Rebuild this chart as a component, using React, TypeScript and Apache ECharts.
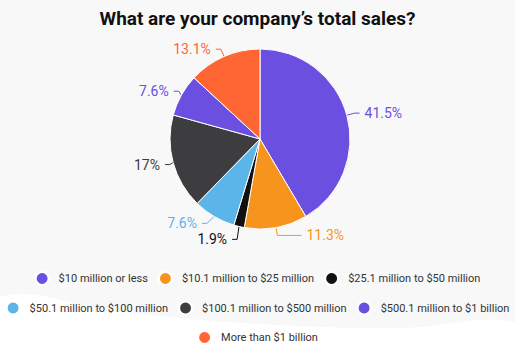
import React, { useEffect, useRef } from "react";
import * as echarts from "echarts";

const categories = [
  "$10 million or less",
  "$10.1 million to $25 million",
  "$25.1 million to $50 million",
  "$50.1 million to $100 million",
  "$100.1 million to $500 million",
  "$500.1 million to $1 billion",
  "More than $1 billion",
];
const values = [41.5, 11.3, 1.9, 7.6, 17, 7.6, 13.1];
const colors = ["#6a4fe0", "#f7941d", "#111111", "#5bb5e9", "#3d3d3f", "#6a4fe0", "#ff6633"];
const legendRows = [[0, 1, 2], [3, 4, 5], [6]];

export default function App() {
  const ref = useRef<HTMLDivElement>(null);
  useEffect(() => {
    document.body.style.margin = "0";
    const chart = echarts.init(ref.current!, null, { renderer: "svg" });
    chart.setOption({
      animation: false,
      backgroundColor: "#f8f8f9",
      graphic: [
        {
          type: "polygon",
          z: 0,
          silent: true,
          shape: {
            points: [
              [0, 297],
              [120, 312],
              [260, 324],
              [400, 328],
              [515, 322],
              [515, 354],
              [0, 354],
            ],
            smooth: 0.4,
          },
          style: { fill: "#ffffff" },
        },
      ],
      title: {
        text: "What are your company’s total sales?",
        left: "center",
        top: 4,
        textStyle: { fontFamily: "Roboto", fontWeight: "bold", fontSize: 19, color: "#111" },
      },
      legend: legendRows.map((row, r) => ({
        top: 271 + r * 29.5,
        left: "center",
        icon: "circle",
        itemWidth: 13,
        itemHeight: 20,
        itemGap: 10,
        padding: 0,
        textStyle: { fontFamily: "Roboto", fontSize: 11, color: "#333", padding: [0, 0, 0, 5] },
        data: row.map((i) => ({ name: categories[i], itemStyle: { color: colors[i] } })),
      })),
      series: [
        {
          type: "pie",
          center: [260, 139],
          radius: 90,
          startAngle: 90,
          clockwise: true,
          avoidLabelOverlap: true,
          itemStyle: { borderColor: "#ffffff", borderWidth: 1 },
          label: {
            formatter: (p: any) => p.value + "%",
            fontFamily: "Roboto",
            fontSize: 14,
          },
          labelLine: { length: 8, length2: 5, lineStyle: { width: 1 } },
          data: categories.map((c, i) => ({
            name: c,
            value: values[i],
            itemStyle: { color: colors[i] },
            label: { color: colors[i] },
            labelLine:
              i === 1
                ? { length: 8, length2: 24, lineStyle: { color: colors[i] } }
                : { lineStyle: { color: colors[i] } },
          })),
        },
      ],
    });
    return () => chart.dispose();
  }, []);
  return <div ref={ref} style={{ width: 515, height: 354 }} />;
}
